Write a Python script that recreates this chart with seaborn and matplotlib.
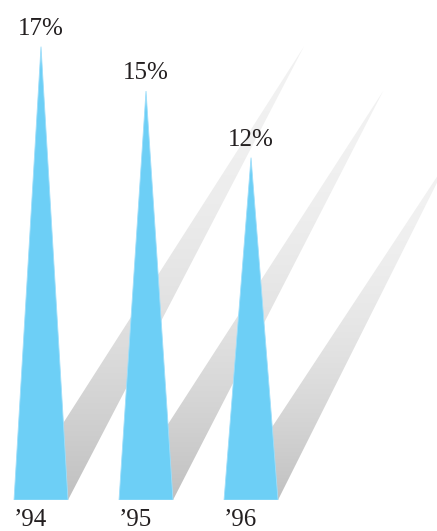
import numpy as np
import matplotlib
matplotlib.use("Agg")
import matplotlib.pyplot as plt
import matplotlib.transforms as mtransforms
from matplotlib.patches import Polygon
import seaborn as sns

# ---- data ----
years = ["\u201994", "\u201995", "\u201996"]
values = [17, 15, 12]
value_labels = ["17%", "15%", "12%"]

# ---- style ----
sns.set_style("white")
plt.rcParams["font.family"] = ["Liberation Serif", "DejaVu Serif"]

BLUE = "#6dcff6"
TEXT = "#231f20"
BASE = -3.42          # value at the spike base (axes bottom)
HALF = 0.257          # half base width, in category units
SHEAR = 0.1226        # horizontal shadow lean per value unit

fig = plt.figure(figsize=(4.37, 5.31), dpi=100)
ax = fig.add_axes([0, 31 / 531, 1, 500 / 531])
ax.set_xlim(-0.3905, 3.771)
ax.set_ylim(BASE, 19.1)
ax.axis("off")

xs = np.arange(len(values))

# shadows (gradient, sheared triangles)
t = np.linspace(0, 1, 256)
shade = 192 + 50 * (1 - (1 - t) ** 2)
for x, v in zip(xs, values):
    apex_x = x + SHEAR * (v - BASE)
    verts = [(x - HALF, BASE), (x + HALF, BASE), (apex_x, v)]
    poly = Polygon(verts, closed=True, facecolor="none", edgecolor="none",
                   transform=ax.transData)
    ax.add_patch(poly)
    img = np.repeat((shade / 255.0)[:, None], 2, axis=1)
    rgb = np.dstack([img, img, img])
    im = ax.imshow(rgb, extent=[x - HALF, apex_x, BASE, v], origin="lower",
                   aspect="auto", interpolation="bilinear", zorder=1)
    im.set_clip_path(poly)

# spikes
for x, v in zip(xs, values):
    spike = Polygon([(x - HALF, BASE), (x + HALF, BASE), (x, v)], closed=True,
                    facecolor=BLUE, edgecolor="#9fdefa", linewidth=0.6, zorder=3)
    ax.add_patch(spike)

# value labels above tips
above = mtransforms.offset_copy(ax.transData, fig=fig, x=0, y=12, units="dots")
for x, v, lab in zip(xs, values, value_labels):
    ax.text(x, v, lab, transform=above, ha="center", va="baseline",
            fontsize=18, color=TEXT, zorder=4)

# year labels below bases
below = mtransforms.offset_copy(ax.transData, fig=fig, x=0, y=-26, units="dots")
for x, yr in zip(xs, years):
    ax.text(x - HALF, BASE, yr, transform=below, ha="left", va="baseline",
            fontsize=18, color=TEXT, clip_on=False, zorder=4)

fig.savefig("out.png", dpi=100)
